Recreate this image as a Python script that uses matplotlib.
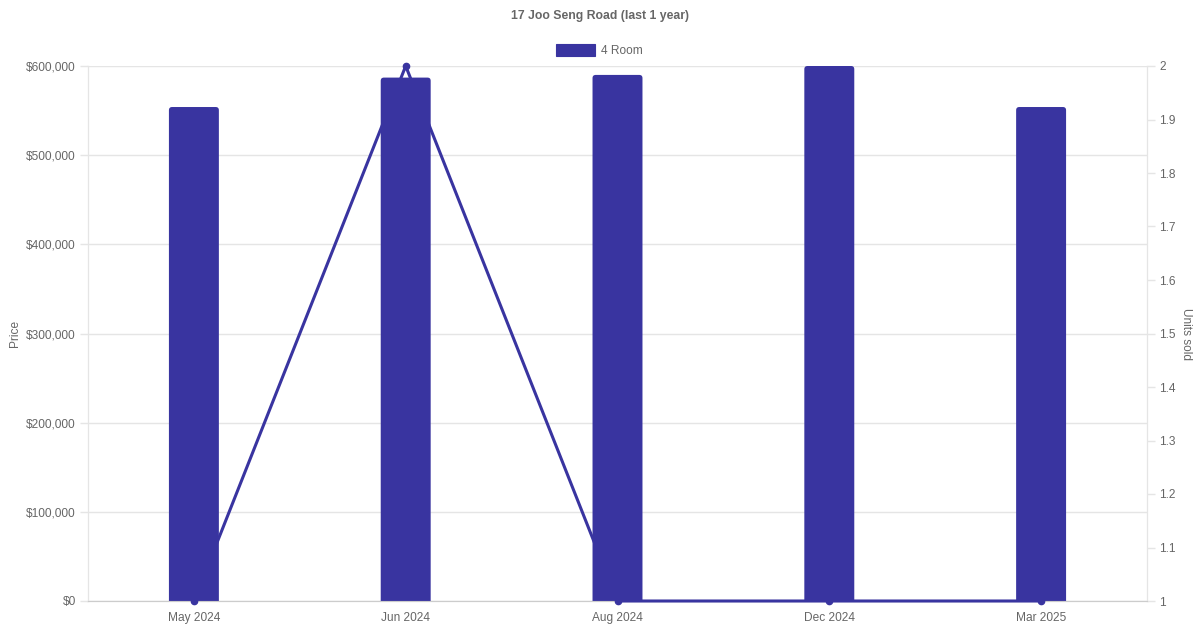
import numpy as np
import matplotlib
matplotlib.use('Agg')
import matplotlib.pyplot as plt
from matplotlib.ticker import FuncFormatter, MultipleLocator
from matplotlib.patches import FancyBboxPatch

months = ['May 2024', 'Jun 2024', 'Aug 2024', 'Dec 2024', 'Mar 2025']
price = [554000, 587000, 590000, 600000, 554000]
units = [1, 2, 1, 1, 1]

col = '#3934a0'
grid = '#e5e5e5'
txt = '#666666'
plt.rcParams['font.family'] = ['Liberation Sans', 'DejaVu Sans']

fig = plt.figure(figsize=(12, 6.3), dpi=100)
ax1 = fig.add_axes([88/1200, 1-601/630, (1147-88)/1200, (601-66)/630])
ax2 = ax1.twinx()

x = np.arange(len(months))
w = 50/212
# y units per pixel / x units per pixel, so the corner rounding stays circular
aspect = (600000/535) / (1/212)
for xi, p in zip(x, price):
    bar = FancyBboxPatch((xi - w/2, -20000), w, p + 20000,
                         boxstyle='round,pad=0,rounding_size=0.015',
                         mutation_aspect=aspect, fc=col, lw=0, zorder=3)
    ax1.add_patch(bar)

ax1.set_xlim(-0.5, 4.5)
ax1.set_ylim(0, 600000)
ax1.yaxis.set_major_locator(MultipleLocator(100000))
ax1.yaxis.set_major_formatter(FuncFormatter(lambda v, p: '${:,.0f}'.format(v)))
ax1.set_xticks(x)
ax1.set_xticklabels(months)
ax1.grid(axis='y', color=grid, lw=1, zorder=0)
ax1.set_axisbelow(True)

ax2.plot(x, units, color=col, lw=2.2, marker='o', ms=4.5, zorder=4, clip_on=False)
ax2.set_ylim(1, 2)
ax2.yaxis.set_major_locator(MultipleLocator(0.1))
ax2.yaxis.set_major_formatter(FuncFormatter(lambda v, p: '{:g}'.format(round(v, 1))))

for a in (ax1, ax2):
    a.spines['top'].set_visible(False)
    a.spines['left'].set_color(grid)
    a.spines['right'].set_color(grid)
    a.spines['bottom'].set_color('#cccccc')
    a.tick_params(colors=txt, labelsize=8.6, length=5.8, width=1)
    a.tick_params(axis='y', color=grid, pad=3)
ax1.tick_params(axis='x', length=0, pad=8)

ax1.set_ylabel('Price', color=txt, fontsize=8.6, labelpad=4)
ax2.set_ylabel('Units sold', color=txt, fontsize=8.6, rotation=270, labelpad=12)

fig.text(0.5, 1-16/630, '17 Joo Seng Road (last 1 year)', ha='center', va='center',
         color=txt, fontsize=8.8, fontweight='bold')
fig.patches.append(plt.Rectangle((556/1200, 1-56/630), 39/1200, 12/630,
                                 transform=fig.transFigure, fc=col, ec=col, lw=0.8))
fig.text(601/1200, 1-51/630, '4 Room', ha='left', va='center', color=txt, fontsize=8.6)

fig.savefig('out.png', dpi=100, facecolor='white')
